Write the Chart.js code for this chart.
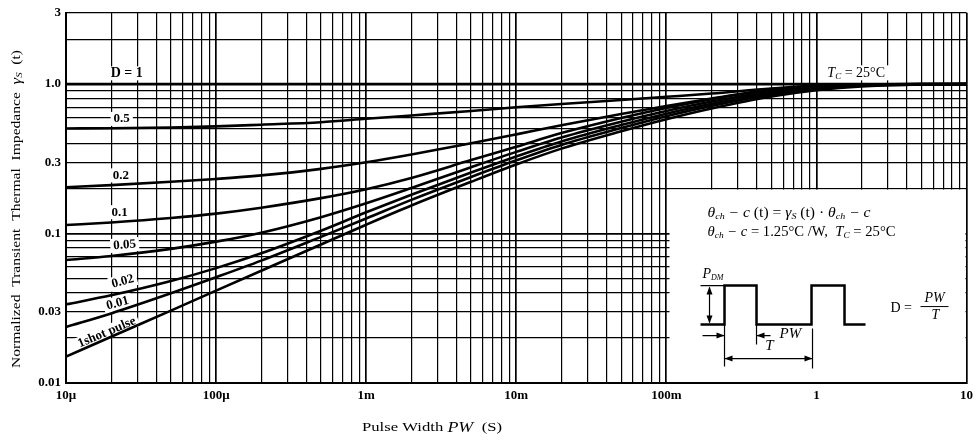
<!DOCTYPE html>
<html>
<head>
<meta charset="utf-8">
<script src="https://cdn.jsdelivr.net/npm/chart.js@4.4.1/dist/chart.umd.min.js"></script>
<style>
  html, body { margin: 0; padding: 0; background: #fff; }
</style>
</head>
<body>
<canvas id="c" width="978" height="440"></canvas>
<script>
// pulse width PW (s) sample points
const pulseWidth = [1e-5, 2e-5, 5e-5, 1e-4, 2e-4, 5e-4, 1e-3, 2e-3, 5e-3, 1e-2, 2e-2, 5e-2, 0.1, 0.2, 0.5, 1, 2, 5, 10];

// normalized transient thermal impedance gamma_s(t) per duty cycle
const dutyNames = ["D=1", "0.5", "0.2", "0.1", "0.05", "0.02", "0.01", "1shot pulse"];
const rD1   = [1, 1, 1, 1, 1, 1, 1, 1, 1, 1, 1, 1, 1, 1, 1, 1, 1, 1, 1];
const rD05  = [0.505, 0.507, 0.513, 0.521, 0.535, 0.556, 0.586, 0.617, 0.661, 0.70, 0.736, 0.782, 0.822, 0.865, 0.935, 0.978, 0.995, 1, 1];
const rD02  = [0.204, 0.211, 0.222, 0.232, 0.245, 0.271, 0.300, 0.338, 0.402, 0.461, 0.530, 0.631, 0.713, 0.80, 0.918, 0.970, 0.993, 0.999, 1];
const rD01  = [0.114, 0.1186, 0.127, 0.136, 0.149, 0.1726, 0.198, 0.2355, 0.310, 0.381, 0.470, 0.593, 0.692, 0.793, 0.912, 0.968, 0.990, 0.999, 1];
const rD005 = [0.0665, 0.0708, 0.079, 0.0883, 0.1014, 0.1288, 0.1596, 0.2018, 0.278, 0.352, 0.439, 0.560, 0.661, 0.764, 0.889, 0.953, 0.989, 0.998, 1];
const rD002 = [0.0336, 0.0386, 0.0481, 0.0587, 0.0738, 0.1045, 0.1387, 0.182, 0.256, 0.328, 0.413, 0.532, 0.634, 0.738, 0.869, 0.940, 0.982, 0.996, 1];
const rD001 = [0.0237, 0.0292, 0.0398, 0.051, 0.0659, 0.095, 0.126, 0.168, 0.239, 0.309, 0.392, 0.508, 0.610, 0.715, 0.849, 0.927, 0.975, 0.994, 1];
const rShot = [0.015, 0.0204, 0.0305, 0.0415, 0.0564, 0.0845, 0.1146, 0.154, 0.222, 0.290, 0.370, 0.483, 0.582, 0.687, 0.826, 0.910, 0.966, 0.993, 1];
const series = [rD1, rD05, rD02, rD01, rD005, rD002, rD001, rShot];

// axis ticks
const xTickValues = [1e-5, 1e-4, 1e-3, 1e-2, 0.1, 1, 10];
const xTickLabels = ["10\u03bc", "100\u03bc", "1m", "10m", "100m", "1", "10"];
const yTickValues = [0.01, 0.03, 0.1, 0.3, 1, 3];
const yTickLabels = ["0.01", "0.03", "0.1", "0.3", "1.0", "3"];

// curve label anchors (data coords) and tilt in degrees
const labelAt = [[2.54e-5, 1.18, 0], [2.35e-5, 0.585, 0], [2.32e-5, 0.245, 0], [2.28e-5, 0.139, 0],
                 [2.46e-5, 0.0838, -4], [2.39e-5, 0.0477, -15], [2.21e-5, 0.0341, -15], [1.87e-5, 0.0218, -23]];
const labelText = ["D = 1", "0.5", "0.2", "0.1", "0.05", "0.02", "0.01", "1shot pulse"];

const SERIF = "'Liberation Serif', 'DejaVu Serif', serif";
const near = (a, b) => Math.abs(Math.log10(a) - Math.log10(b)) < 1e-6;
const isDecade = (v) => Math.abs(Math.log10(v) - Math.round(Math.log10(v))) < 1e-6;
function logGrid(min, max) {
  const out = [];
  for (let e = Math.floor(Math.log10(min)); e <= Math.ceil(Math.log10(max)); e++)
    for (let k = 1; k <= 9; k++) {
      const v = +(k * Math.pow(10, e)).toPrecision(6);
      if (v >= min * 0.9999 && v <= max * 1.0001) out.push({ value: v });
    }
  return out;
}

// draw a run of text pieces: [text, font, dy]; fit squeezes/stretches to a width
function runs(ctx, parts, x, y, align, fit) {
  let w = 0;
  parts.forEach((p) => { ctx.font = p[1]; w += ctx.measureText(p[0]).width; });
  ctx.save();
  ctx.translate(x, y);
  if (fit) ctx.scale(fit / w, 1);
  let cx = align === "center" ? -w / 2 : 0;
  parts.forEach((p) => { ctx.font = p[1]; ctx.fillText(p[0], cx, p[2] || 0); cx += ctx.measureText(p[0]).width; });
  ctx.restore();
}
function arrowHead(ctx, x, y, dir) { // dir: 1 right, -1 left, 2 up, -2 down
  ctx.beginPath();
  if (Math.abs(dir) === 1) { ctx.moveTo(x, y); ctx.lineTo(x - 8 * dir, y - 3); ctx.lineTo(x - 8 * dir, y + 3); }
  else { const d = dir > 0 ? 1 : -1; ctx.moveTo(x, y); ctx.lineTo(x - 3, y + 8 * d); ctx.lineTo(x + 3, y + 8 * d); }
  ctx.closePath(); ctx.fill();
}

const it = (s) => `italic ${s}px ${SERIF}`;
const up = (s) => `${s}px ${SERIF}`;
const bold = (s) => `bold ${s}px ${SERIF}`;

const inkPlugin = {
  id: "ink",
  beforeDatasetsDraw(chart) {
    const { ctx, chartArea: a, scales: { x, y } } = chart;
    ctx.save();
    ctx.fillStyle = "#fff";
    // blank inset panel (bottom right, right of 100m, below 0.2)
    const bx = x.getPixelForValue(0.105), by = y.getPixelForValue(0.2);
    ctx.fillRect(bx, by + 1, a.right - bx - 1, a.bottom - by - 2);
    // white patches behind curve labels
    ctx.font = bold(13);
    labelAt.forEach((l, i) => {
      const px = x.getPixelForValue(l[0]), py = y.getPixelForValue(l[1]);
      const w = ctx.measureText(labelText[i]).width;
      ctx.save(); ctx.translate(px, py); ctx.rotate(l[2] * Math.PI / 180);
      ctx.fillRect(-w / 2 - 3, -7, w + 6, 14);
      ctx.restore();
    });
    const tx = x.getPixelForValue(1.84), ty = y.getPixelForValue(1.18);
    ctx.fillRect(tx - 33, ty - 8, 66, 15);
    ctx.restore();
  },
  afterDatasetsDraw(chart) {
    const { ctx, scales: { x, y } } = chart;
    ctx.save();
    ctx.fillStyle = "#000"; ctx.strokeStyle = "#000";
    ctx.textBaseline = "middle"; ctx.textAlign = "left";
    // curve labels
    labelAt.forEach((l, i) => {
      const px = x.getPixelForValue(l[0]), py = y.getPixelForValue(l[1]);
      ctx.save(); ctx.translate(px, py); ctx.rotate(l[2] * Math.PI / 180);
      runs(ctx, [[labelText[i], bold(i === 0 ? 14 : 13)]], 0, 0, "center");
      ctx.restore();
    });
    // Tc = 25C near the top right
    runs(ctx, [["T", it(14)], ["C", it(9), 3], [" = 25\u00b0C", up(14)]],
      x.getPixelForValue(1.84), y.getPixelForValue(1.18), "center");

    // inset
    const bx = x.getPixelForValue(0.105), by = y.getPixelForValue(0.2);
    runs(ctx, [["\u03b8", it(14)], ["ch", it(9), 3], [" \u2212 c", it(14)], [" (t) = ", up(14)], ["\u03b3", it(14)], ["S", it(9), 3],
      [" (t) \u00b7 ", up(14)], ["\u03b8", it(14)], ["ch", it(9), 3], [" \u2212 c", it(14)]], bx + 38, by + 25, "left", 163);
    runs(ctx, [["\u03b8", it(14)], ["ch", it(9), 3], [" \u2212 c", it(14)], [" = 1.25\u00b0C /W,  ", up(14)], ["T", it(14)], ["C", it(9), 3],
      [" = 25\u00b0C", up(14)]], bx + 38, by + 44, "left", 188);
    runs(ctx, [["P", it(14)], ["DM", it(8), 3]], bx + 33, by + 86);
    // pulse train
    const base = by + 136, high = by + 97;
    ctx.lineWidth = 2.5;
    ctx.beginPath();
    ctx.moveTo(bx + 31, base); ctx.lineTo(bx + 55, base); ctx.lineTo(bx + 55, high); ctx.lineTo(bx + 87, high);
    ctx.lineTo(bx + 87, base); ctx.lineTo(bx + 142, base); ctx.lineTo(bx + 142, high); ctx.lineTo(bx + 175, high);
    ctx.lineTo(bx + 175, base); ctx.lineTo(bx + 196, base);
    ctx.stroke();
    ctx.lineWidth = 1.2;
    ctx.beginPath();
    ctx.moveTo(bx + 31, high); ctx.lineTo(bx + 55, high);                 // P_DM top tick
    ctx.moveTo(bx + 40, high + 2); ctx.lineTo(bx + 40, base - 2);          // P_DM dimension
    ctx.moveTo(bx + 33, by + 147); ctx.lineTo(bx + 55, by + 147);          // PW arrow left
    ctx.moveTo(bx + 101, by + 147); ctx.lineTo(bx + 87, by + 147);         // PW arrow right
    ctx.moveTo(bx + 55, base); ctx.lineTo(bx + 55, by + 178);              // extension lines
    ctx.moveTo(bx + 87, base); ctx.lineTo(bx + 87, by + 156);
    ctx.moveTo(bx + 143, base + 4); ctx.lineTo(bx + 143, by + 180);
    ctx.moveTo(bx + 55, by + 170); ctx.lineTo(bx + 143, by + 170);         // T dimension
    ctx.stroke();
    arrowHead(ctx, bx + 40, high + 1, 2); arrowHead(ctx, bx + 40, base - 1, -2);
    arrowHead(ctx, bx + 55, by + 147, 1); arrowHead(ctx, bx + 87, by + 147, -1);
    arrowHead(ctx, bx + 55, by + 170, -1); arrowHead(ctx, bx + 143, by + 170, 1);
    runs(ctx, [["PW", it(15)]], bx + 110, by + 145);
    runs(ctx, [["T", it(15)]], bx + 100, by + 157, "center");
    // D = PW / T
    runs(ctx, [["D =", up(14)]], bx + 221, by + 120);
    runs(ctx, [["PW", it(14)]], bx + 265, by + 110, "center");
    ctx.lineWidth = 1; ctx.beginPath(); ctx.moveTo(bx + 251, by + 118); ctx.lineTo(bx + 279, by + 118); ctx.stroke();
    runs(ctx, [["T", it(14)]], bx + 266, by + 127, "center");

    // axis titles
    runs(ctx, [["Pulse Width ", up(13)], ["PW", it(14)], ["  (S)", up(13)]], 432, 428, "center", 140);
    ctx.save(); ctx.translate(17, 209); ctx.rotate(-Math.PI / 2);
    runs(ctx, [["Normalized  Transient  Thermal  Impedance  ", up(13)], ["\u03b3", it(14)], ["S", it(9), 3], ["  (t)", up(13)]], 0, 0, "center", 318);
    ctx.restore();
    ctx.restore();
  },
};

new Chart(document.getElementById("c"), {
  type: "line",
  data: {
    datasets: series.map((s, i) => ({
      label: dutyNames[i],
      data: pulseWidth.map((t, j) => ({ x: t, y: s[j] })),
      borderColor: "#000", borderWidth: 2.6, pointRadius: 0, fill: false,
      cubicInterpolationMode: "monotone",
    })),
  },
  options: {
    responsive: false, animation: false, devicePixelRatio: 1,
    layout: { padding: { top: 10, right: 8, left: 0, bottom: 0 } },
    plugins: { legend: { display: false }, tooltip: { enabled: false } },
    scales: {
      x: {
        type: "logarithmic", min: 1e-5, max: 10,
        afterBuildTicks: (s) => { s.ticks = logGrid(1e-5, 10); },
        afterFit: (s) => { s.height = 57; },
        grid: { color: "#000", lineWidth: (c) => (isDecade(c.tick.value) ? 1.7 : 1.2), drawTicks: false },
        border: { color: "#000", width: 2 },
        ticks: {
          autoSkip: false, maxRotation: 0, padding: 5, color: "#000",
          font: { family: SERIF, size: 13, weight: "bold" },
          callback: (v) => { const i = xTickValues.findIndex((t) => near(t, v)); return i < 0 ? "" : xTickLabels[i]; },
        },
      },
      y: {
        type: "logarithmic", min: 0.01, max: 3,
        afterBuildTicks: (s) => { s.ticks = logGrid(0.01, 3); },
        afterFit: (s) => { s.width = 66; },
        grid: { color: "#000", lineWidth: (c) => (isDecade(c.tick.value) ? 1.7 : 1.2), drawTicks: false },
        border: { color: "#000", width: 2 },
        ticks: {
          autoSkip: false, padding: 5, color: "#000",
          font: { family: SERIF, size: 13, weight: "bold" },
          callback: (v) => { const i = yTickValues.findIndex((t) => near(t, v)); return i < 0 ? "" : yTickLabels[i]; },
        },
      },
    },
  },
  plugins: [inkPlugin],
});
</script>
</body>
</html>
